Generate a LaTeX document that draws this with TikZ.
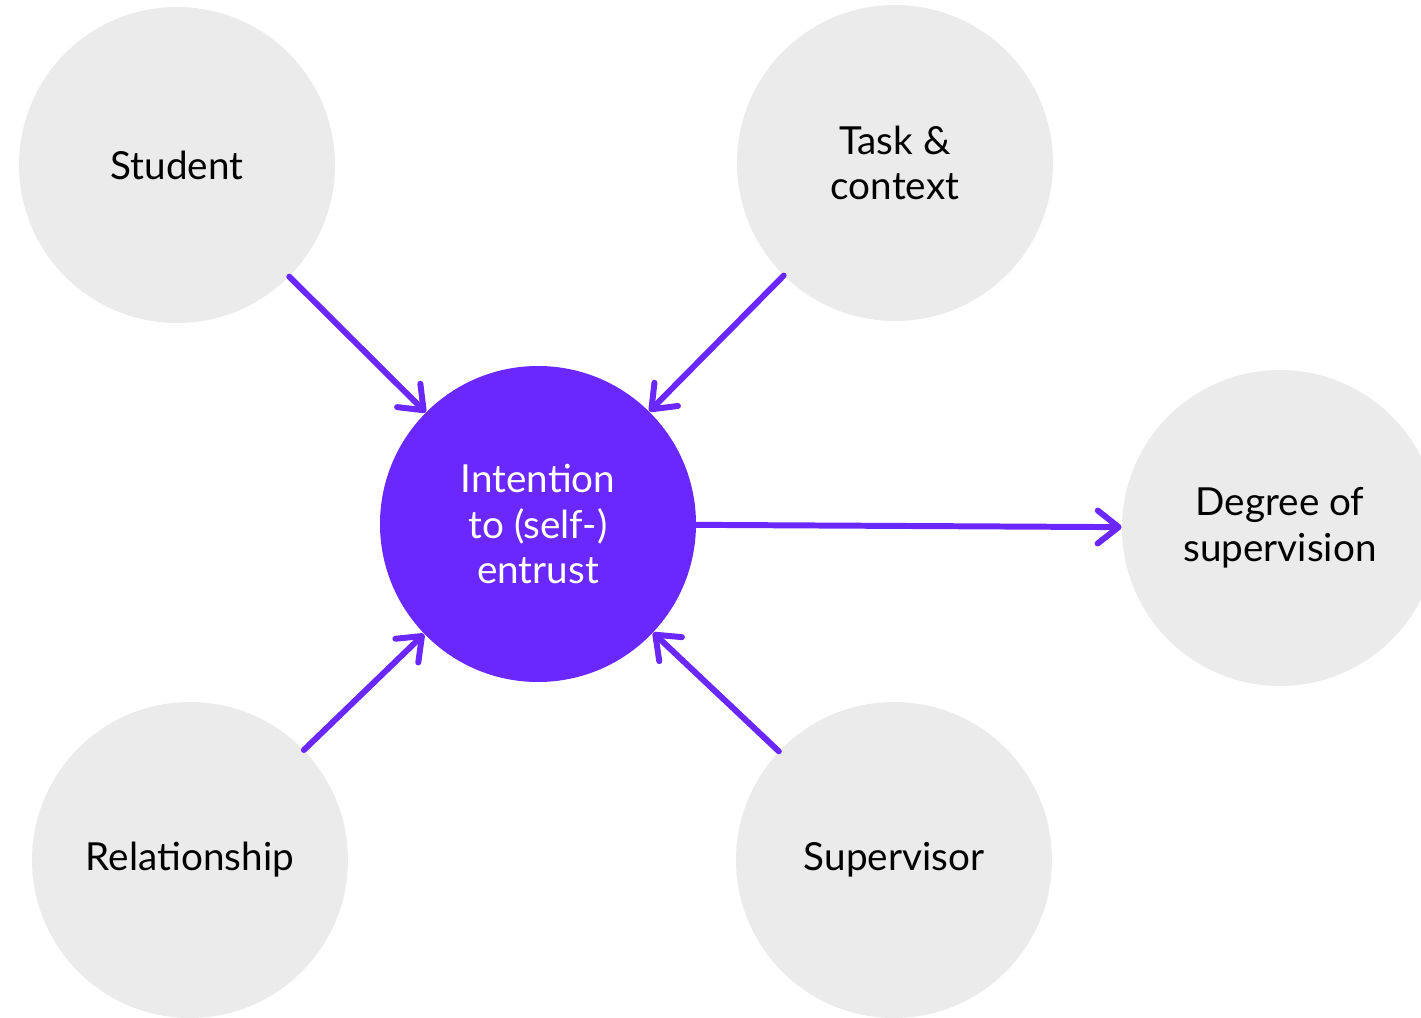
\documentclass[tikz,border=0pt]{standalone}
\usepackage{fontspec}
\setmainfont{Lato}
\usetikzlibrary{arrows.meta}
\definecolor{entrust}{HTML}{6A28FF}
\definecolor{bubble}{HTML}{EBEBEB}

\begin{document}
\begin{tikzpicture}[
    factor/.style={circle, fill=bubble, minimum size=6.32cm, inner sep=0pt,
      align=center, text=black, font=\fontsize{22}{26}\selectfont},
    core/.style={factor, fill=entrust, text=white},
    link/.style={entrust, line width=3.4pt, line cap=round,
      -{Straight Barb[length=0.42cm, width=0.66cm, round]}}
  ]
  		\useasboundingbox (0,0) rectangle (28.42,-20.36);
  		\clip (0,0) rectangle (28.42,-20.36);

  		\node[factor] (student) at (3.54,-3.30) {Student};
  		\node[factor] (task) at (17.90,-3.26) {Task \&\\context};
  		\node[core] (intent) at (10.76,-10.48) {Intention\\to (self-)\\entrust};
  		\node[factor] (degree) at (25.60,-10.56) {Degree of\\supervision};
  		\node[factor] (relation) at (3.80,-17.20) {Relationship};
  		\node[factor] (supervisor) at (17.88,-17.20) {Supervisor};

  		\draw[link] (student) -- (intent);
  		\draw[link] (task) -- (intent);
  		\draw[link] (relation) -- (intent);
  		\draw[link] (supervisor) -- (intent);
  		\draw[link] (intent) -- (degree);
\end{tikzpicture}
\end{document}
